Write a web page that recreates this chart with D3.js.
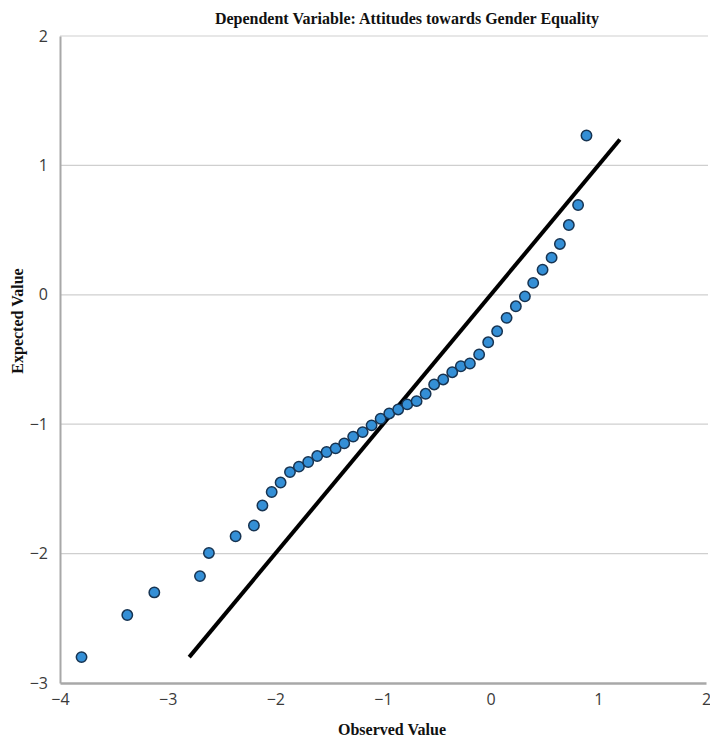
<!DOCTYPE html>
<html>
<head>
<meta charset="utf-8">
<script src="https://cdn.jsdelivr.net/npm/d3@7"></script>
<style>
  body { margin: 0; background: #fff; }
  .tick text { font-family: "Open Sans", "DejaVu Sans", sans-serif; fill: #3a3a3a; }
</style>
</head>
<body>
<script>
// Data
const observed = [-3.80, -3.375, -3.124, -2.70, -2.617, -2.369, -2.199, -2.12, -2.034, -1.951,
  -1.864, -1.781, -1.695, -1.611, -1.524, -1.440, -1.360, -1.277, -1.189, -1.106,
  -1.022, -0.942, -0.859, -0.775, -0.688, -0.604, -0.525, -0.441, -0.357, -0.277,
  -0.193, -0.107, -0.023, 0.060, 0.148, 0.234, 0.318, 0.395, 0.482, 0.566,
  0.643, 0.726, 0.812, 0.890];
const expected = [-2.80, -2.475, -2.30, -2.174, -1.995, -1.866, -1.783, -1.628, -1.524, -1.451,
  -1.370, -1.328, -1.292, -1.246, -1.215, -1.187, -1.148, -1.096, -1.061, -1.009,
  -0.958, -0.917, -0.886, -0.847, -0.822, -0.765, -0.693, -0.654, -0.598, -0.552,
  -0.531, -0.461, -0.367, -0.282, -0.178, -0.089, -0.012, 0.092, 0.194, 0.287,
  0.393, 0.539, 0.694, 1.231];
const refLine = [-2.8, 1.2];
const xTicks = [-4, -3, -2, -1, 0, 1, 2];
const yTicks = [-3, -2, -1, 0, 1, 2];

const width = 710;
const height = 740;
const margin = { top: 36, right: 4, bottom: 57, left: 60 };

const svg = d3.select('body')
  .append('svg')
  .attr('width', width)
  .attr('height', height);

const xScale = d3.scaleLinear()
  .domain([-4, 2])
  .range([margin.left, width - margin.right]);

const yScale = d3.scaleLinear()
  .domain([-3, 2])
  .range([height - margin.bottom, margin.top]);

// horizontal grid lines
svg.append('g')
  .selectAll('line')
  .data(yTicks.slice(1))
  .enter()
  .append('line')
  .attr('x1', margin.left)
  .attr('x2', width - 2)
  .attr('y1', d => yScale(d))
  .attr('y2', d => yScale(d))
  .style('stroke', '#cfcfcf')
  .style('stroke-width', 1.2);

// axes
const xAxis = d3.axisBottom(xScale).tickValues(xTicks).tickSize(0).tickPadding(11).tickFormat(d3.format('d'));
const yAxis = d3.axisLeft(yScale).tickValues(yTicks).tickSize(0).tickPadding(12).tickFormat(d3.format('d'));

const gx = svg.append('g')
  .attr('transform', `translate(0, ${height - margin.bottom})`)
  .call(xAxis);
gx.select('.domain').style('stroke', '#a8a8a8').style('stroke-width', 2.5);
gx.selectAll('text').style('font-size', '16px');

const gy = svg.append('g')
  .attr('transform', `translate(${margin.left}, 0)`)
  .call(yAxis);
gy.select('.domain').style('stroke', '#a8a8a8').style('stroke-width', 2);
gy.selectAll('text').style('font-size', '16px');

// reference line
svg.append('line')
  .attr('x1', xScale(refLine[0]))
  .attr('y1', yScale(refLine[0]))
  .attr('x2', xScale(refLine[1]))
  .attr('y2', yScale(refLine[1]))
  .style('stroke', '#000')
  .style('stroke-width', 4);

// points
svg.selectAll('circle')
  .data(observed.map((d, i) => [d, expected[i]]))
  .enter()
  .append('circle')
  .attr('cx', d => xScale(d[0]))
  .attr('cy', d => yScale(d[1]))
  .attr('r', 5.2)
  .style('fill', '#348fd6')
  .style('stroke', '#173452')
  .style('stroke-width', 1.5);

// titles
svg.append('text')
  .attr('x', 407)
  .attr('y', 24)
  .style('text-anchor', 'middle')
  .style('font-family', '"Liberation Serif", serif')
  .style('font-weight', 'bold')
  .style('font-size', '16px')
  .style('fill', '#111')
  .text('Dependent Variable: Attitudes towards Gender Equality');

svg.append('text')
  .attr('x', 392)
  .attr('y', 735)
  .style('text-anchor', 'middle')
  .style('font-family', '"Liberation Serif", serif')
  .style('font-weight', 'bold')
  .style('font-size', '16px')
  .style('fill', '#111')
  .text('Observed Value');

svg.append('text')
  .attr('transform', 'rotate(-90)')
  .attr('x', -321)
  .attr('y', 23)
  .style('text-anchor', 'middle')
  .style('font-family', '"Liberation Serif", serif')
  .style('font-weight', 'bold')
  .style('font-size', '16px')
  .style('fill', '#111')
  .text('Expected Value');
</script>
</body>
</html>
